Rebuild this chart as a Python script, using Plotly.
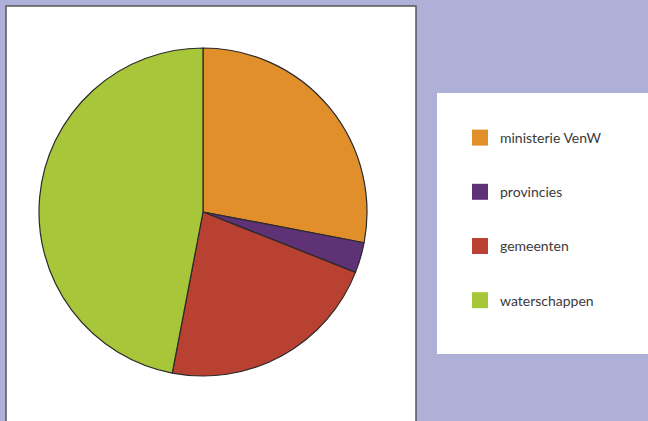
import plotly.graph_objects as go

labels = ["ministerie VenW", "provincies", "gemeenten", "waterschappen"]
values = [28, 3, 22, 47]
colors = ["#E08F2A", "#5E3275", "#B84131", "#A8C639"]

W, H = 648, 421
bg = "#AFB0D8"

fig = go.Figure()
fig.add_trace(go.Pie(
    labels=labels, values=values, sort=False, direction="clockwise", rotation=0,
    marker=dict(colors=colors, line=dict(color="#2a2a2a", width=1.2)),
    textinfo="none", showlegend=False,
    domain=dict(x=[39 / W, 367 / W], y=[45 / H, 373 / H]),
))
for lab, col in zip(labels, colors):
    fig.add_trace(go.Scatter(
        x=[None], y=[None], mode="markers", name=lab, legendgroup=lab,
        marker=dict(symbol="square", size=17, color=col),
    ))

fig.update_layout(
    width=W, height=H, margin=dict(l=0, r=0, t=0, b=0),
    paper_bgcolor=bg, plot_bgcolor=bg,
    xaxis=dict(visible=False), yaxis=dict(visible=False),
    shapes=[
        dict(type="rect", xref="paper", yref="paper", x0=6 / W, x1=416 / W, y0=-0.05, y1=1 - 6 / H,
             fillcolor="white", line=dict(color="#555555", width=1.5), layer="below"),
        dict(type="rect", xref="paper", yref="paper", x0=437 / W, x1=1.01, y0=(H - 354) / H, y1=(H - 93) / H,
             fillcolor="white", line=dict(width=0), layer="below"),
    ],
    legend=dict(
        x=460 / W, y=(H - 122) / H, xanchor="left", yanchor="top",
        bgcolor="rgba(0,0,0,0)", tracegroupgap=33, itemsizing="trace",
        font=dict(family="Lato", size=14, color="#3a3a3a"),
    ),
    font=dict(family="Lato"),
)
fig.write_html("out.html", config={"displayModeBar": False},
               post_script="document.body.style.margin='0';document.body.style.padding='0';")
